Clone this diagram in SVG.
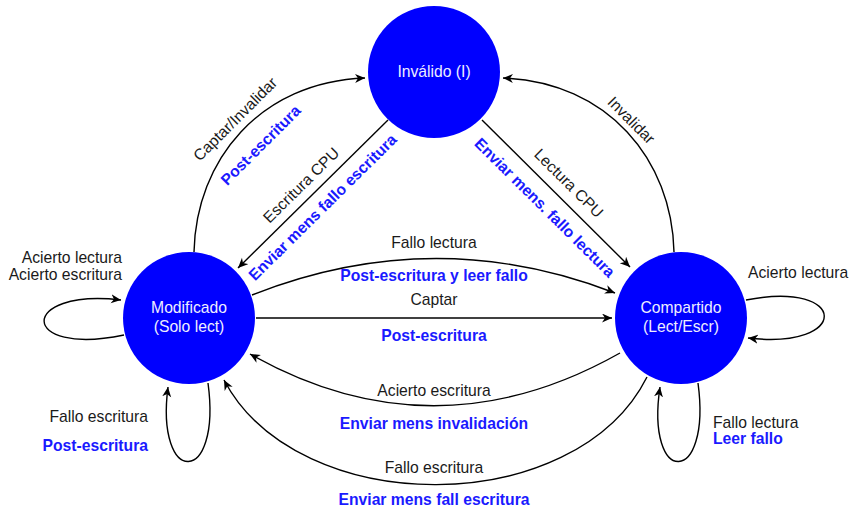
<svg xmlns="http://www.w3.org/2000/svg" width="852" height="507" viewBox="0 0 852 507">
<style>
.node{fill:#0000ff;}
.nt{font-family:"Liberation Sans",Arial,sans-serif;font-size:15.7px;fill:#eeeeff;text-anchor:middle;}
.lb{font-family:"Liberation Sans",Arial,sans-serif;font-size:15.7px;fill:#1a1a1a;}
.bl{font-family:"Liberation Sans",Arial,sans-serif;font-size:15.7px;fill:#1a1aff;font-weight:bold;}
.m{text-anchor:middle;}
.e{text-anchor:end;}
.edge{fill:none;stroke:#000;stroke-width:1.4;marker-end:url(#arr);}
</style>
<defs>
<marker id="arr" markerWidth="11" markerHeight="10" refX="10" refY="4.5" orient="auto" markerUnits="userSpaceOnUse">
<path d="M0,0 L10,4.5 L0,9 L3,4.5 Z" fill="#000"/>
</marker>
</defs>
<rect width="852" height="507" fill="#fff"/>
<g id="connectors">
<path class="edge" d="M194,252 C196,160 260,82 365,78"/>
<path class="edge" d="M674,252 C672,160 608,82 503,78"/>
<path class="edge" d="M388,120 L238,268"/>
<path class="edge" d="M482,120 L630,267"/>
<path class="edge" d="M252,295 Q434,223 615,293"/>
<path class="edge" d="M256,318 L612,318"/>
<path class="edge" d="M620,353 Q434,458 250,354"/>
<path class="edge" d="M647,377 C575,520 298,520 224,380"/>
<path class="edge" d="M124,335 C18,357 18,288 121,300"/>
<path class="edge" d="M208,383 C222,487 155,487 168,387"/>
<path class="edge" d="M746,300 C850,280 850,350 748,338"/>
<path class="edge" d="M698,383 C712,487 645,487 660,387"/>
</g>
<g id="labels">
<text class="lb m" transform="translate(235,119) rotate(-45)" y="5.6">Captar/Invalidar</text>
<text class="bl m" transform="translate(260.5,145) rotate(-45)" y="5.6">Post-escritura</text>
<text class="lb m" transform="translate(301,185) rotate(-44.6)" y="5.6">Escritura CPU</text>
<text class="bl m" transform="translate(322.5,207) rotate(-44.6)" y="5.6">Enviar mens fallo escritura</text>
<text class="lb m" transform="translate(569,183) rotate(44.8)" y="5.6">Lectura CPU</text>
<text class="bl m" transform="translate(545,207.5) rotate(44.8)" y="5.6">Enviar mens. fallo lectura</text>
<text class="lb m" transform="translate(631.5,120) rotate(45)" y="5.6">Invalidar</text>
<text class="lb m" x="434" y="248">Fallo lectura</text>
<text class="bl m" x="434" y="281">Post-escritura y leer fallo</text>
<text class="lb m" x="434" y="305">Captar</text>
<text class="bl m" x="434" y="341">Post-escritura</text>
<text class="lb m" x="434" y="396">Acierto escritura</text>
<text class="bl m" x="434" y="429">Enviar mens invalidación</text>
<text class="lb m" x="434" y="473">Fallo escritura</text>
<text class="bl m" x="434" y="505">Enviar mens fall escritura</text>
<text class="lb e" x="122" y="263">Acierto lectura</text>
<text class="lb e" x="122" y="279.5">Acierto escritura</text>
<text class="lb e" x="148" y="422">Fallo escritura</text>
<text class="bl e" x="148" y="451">Post-escritura</text>
<text class="lb" x="748" y="278">Acierto lectura</text>
<text class="lb" x="713" y="428">Fallo lectura</text>
<text class="bl" x="713" y="443.5">Leer fallo</text>
</g>
<g id="node-invalido">
<circle class="node" cx="434" cy="72" r="66"/>
<text class="nt" x="434" y="77.3">Inválido (I)</text>
</g>
<g id="node-modificado">
<circle class="node" cx="189" cy="318" r="66"/>
<text class="nt" x="189" y="313.3">Modificado</text>
<text class="nt" x="189" y="332">(Solo lect)</text>
</g>
<g id="node-compartido">
<circle class="node" cx="681" cy="318" r="66"/>
<text class="nt" x="681" y="313.3">Compartido</text>
<text class="nt" x="681" y="332">(Lect/Escr)</text>
</g>
</svg>
